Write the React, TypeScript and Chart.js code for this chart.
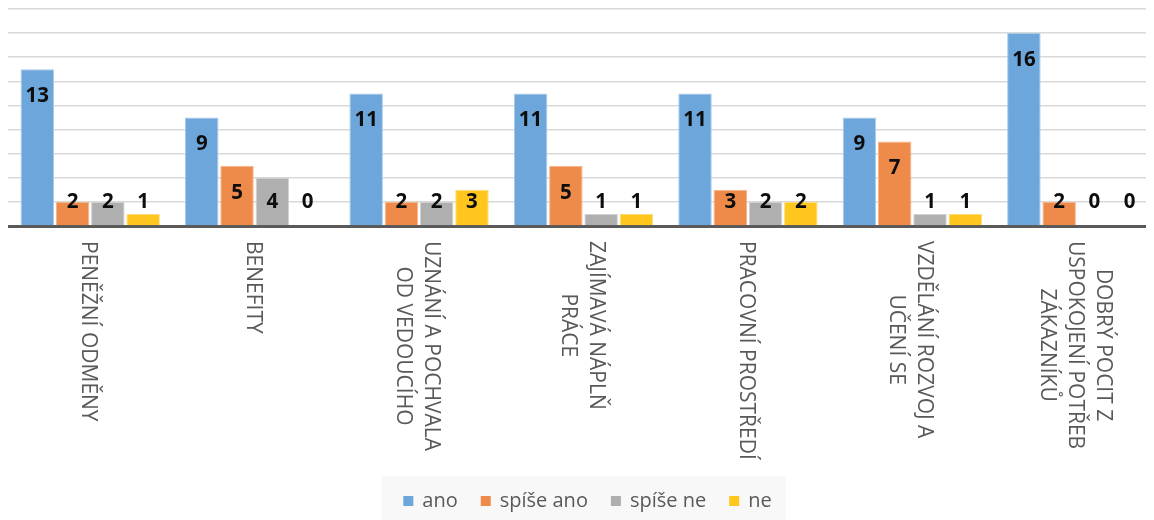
import React, { useEffect, useRef } from "react";
import { Chart, registerables } from "chart.js";

Chart.register(...registerables);

// Category labels, one array entry per printed line
const categories: string[][] = [
  ["PENĚŽNÍ ODMĚNY"],
  ["BENEFITY"],
  ["UZNÁNÍ A POCHVALA", "OD VEDOUCÍHO"],
  ["ZAJÍMAVÁ NÁPLŇ", "PRÁCE"],
  ["PRACOVNÍ PROSTŘEDÍ"],
  ["VZDĚLÁNÍ ROZVOJ A", "UČENÍ SE"],
  ["DOBRÝ POCIT Z", "USPOKOJENÍ POTŘEB", "ZÁKAZNÍKŮ"],
];

const seriesNames = ["ano", "spíše ano", "spíše ne", "ne"];

const ano = [13, 9, 11, 11, 11, 9, 16];
const spiseAno = [2, 5, 2, 5, 3, 7, 2];
const spiseNe = [2, 4, 2, 1, 2, 1, 0];
const ne = [1, 0, 3, 1, 2, 1, 0];

const yMax = 18;
const yStep = 2;

const fills = ["#6ca6da", "#ef8b4a", "#afafaf", "#ffc61e"];
const edges = ["#a9cbea", "#f5b58b", "#d2d2d2", "#ffdc7a"];

const FONT = '"Open Sans", "DejaVu Sans", sans-serif';
const TEXT_COLOR = "#595959";

// Numbers printed inside the top of each bar (never lower than the level of 2)
const valueLabels = {
  id: "valueLabels",
  afterDatasetsDraw(chart: any) {
    const { ctx } = chart;
    const yScale = chart.scales.y;
    const floorY = yScale.getPixelForValue(2);
    ctx.save();
    ctx.font = `bold 20.5px ${FONT}`;
    ctx.fillStyle = "#0d0d0d";
    ctx.textAlign = "center";
    ctx.textBaseline = "middle";
    chart.data.datasets.forEach((ds: any, di: number) => {
      const meta = chart.getDatasetMeta(di);
      meta.data.forEach((bar: any, i: number) => {
        const y = Math.min(bar.y + 27, floorY);
        ctx.fillText(String(ds.data[i]), bar.x, y);
      });
    });
    ctx.restore();
  },
};

// Category names written vertically, reading top to bottom
const verticalCategoryLabels = {
  id: "verticalCategoryLabels",
  afterDraw(chart: any) {
    const { ctx, chartArea } = chart;
    const xScale = chart.scales.x;
    const lineHeight = 28;
    const startY = chartArea.bottom + 15;
    ctx.save();
    ctx.font = `21px ${FONT}`;
    ctx.fillStyle = TEXT_COLOR;
    ctx.textAlign = "center";
    ctx.textBaseline = "middle";
    categories.forEach((lines, i) => {
      const cx = xScale.getPixelForValue(i);
      const maxW = Math.max(...lines.map((l) => ctx.measureText(l).width));
      ctx.save();
      ctx.translate(cx, startY);
      ctx.rotate(Math.PI / 2);
      const n = lines.length;
      lines.forEach((line, k) => {
        ctx.fillText(line, maxW / 2, (k - (n - 1) / 2) * lineHeight + 2);
      });
      ctx.restore();
    });
    ctx.restore();
  },
};

// Legend row with a light panel behind it
const bottomLegend = {
  id: "bottomLegend",
  afterDraw(chart: any) {
    const { ctx, chartArea } = chart;
    const box = 10;
    const gap = 9;
    const spacing = 23;
    ctx.save();
    ctx.font = `20px ${FONT}`;
    const widths = seriesNames.map((s) => box + gap + ctx.measureText(s).width);
    const total = widths.reduce((a, b) => a + b, 0) + spacing * (seriesNames.length - 1);
    const centerX = (chartArea.left + chartArea.right) / 2 + 4;
    let x = centerX - total / 2;
    const rowY = chartArea.bottom + 275;
    ctx.fillStyle = "#f8f8f8";
    ctx.fillRect(x - 22, chartArea.bottom + 250, total + 36, 60);
    ctx.textBaseline = "middle";
    ctx.textAlign = "left";
    seriesNames.forEach((name, i) => {
      ctx.fillStyle = fills[i];
      ctx.fillRect(x, rowY - box / 2, box, box);
      ctx.fillStyle = TEXT_COLOR;
      ctx.fillText(name, x + box + gap, rowY);
      x += widths[i] + spacing;
    });
    ctx.restore();
  },
};

export default function App() {
  const canvasRef = useRef<HTMLCanvasElement | null>(null);

  useEffect(() => {
    const canvas = canvasRef.current;
    if (!canvas) return;
    const seriesValues = [ano, spiseAno, spiseNe, ne];
    const chart = new Chart(canvas, {
      type: "bar",
      data: {
        labels: categories.map((c) => c.join(" ")),
        datasets: seriesNames.map((name, i) => ({
          label: name,
          data: seriesValues[i],
          backgroundColor: fills[i],
          borderColor: edges[i],
          borderWidth: 1,
          categoryPercentage: 0.858,
          barPercentage: 0.95,
        })),
      },
      options: {
        responsive: false,
        animation: false,
        layout: { padding: { top: 1, left: 0, right: 0, bottom: 294 } },
        plugins: {
          legend: { display: false },
          tooltip: { enabled: false },
        },
        scales: {
          x: {
            ticks: { display: false },
            grid: { display: false, drawTicks: false },
            border: { display: true, color: "#595959", width: 3 },
          },
          y: {
            min: 0,
            max: yMax,
            ticks: { display: false, stepSize: yStep },
            grid: { color: "#d9d9d9", lineWidth: 1.5, drawTicks: false },
            border: { display: false },
          },
        },
      },
      plugins: [valueLabels, verticalCategoryLabels, bottomLegend],
    });
    return () => chart.destroy();
  }, []);

  return (
    <div style={{ width: 1146, height: 512, overflow: "hidden", position: "relative" }}>
      <canvas
        ref={canvasRef}
        width={1151}
        height={512}
        style={{ display: "block", width: 1151, height: 512 }}
      />
    </div>
  );
}
